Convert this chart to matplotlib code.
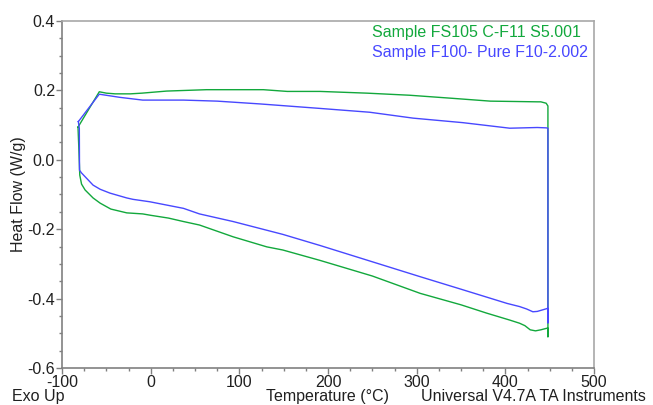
import matplotlib
matplotlib.use("Agg")
import matplotlib.pyplot as plt
from matplotlib.ticker import MultipleLocator

# Sample FS105 C-F11 S5.001 (green) - one closed loop, heating then cooling
temp_fs105 = [-82, -81, -80, -78, -74, -65, -57, -45, -27, -9, 0, 20, 37, 55, 93,
              131, 149, 191, 250, 304, 350, 379, 405, 416, 422, 428, 434, 440,
              446, 448, 448, 448, 446, 440, 436, 410, 383, 341, 292, 244, 191,
              154, 127, 63, 18, -10, -23, -40, -50, -58, -82]
hf_fs105 = [0.094, 0.03, -0.044, -0.07, -0.087, -0.11, -0.125, -0.142, -0.153,
            -0.156, -0.160, -0.168, -0.178, -0.188, -0.222, -0.251, -0.260,
            -0.290, -0.335, -0.385, -0.418, -0.442, -0.462, -0.471, -0.478,
            -0.490, -0.493, -0.490, -0.486, -0.485, -0.51, 0.155, 0.163, 0.167,
            0.167, 0.168, 0.169, 0.177, 0.186, 0.192, 0.197, 0.197, 0.202,
            0.202, 0.198, 0.192, 0.190, 0.190, 0.192, 0.196, 0.094]

# Sample F100- Pure F10-2.002 (blue)
temp_f100 = [-81.6, -80.5, -80.3, -78, -65, -57, -46, -27, -20, -1, 37, 55, 93,
             149, 191, 250, 304, 350, 402, 416, 424, 431, 436, 448, 448, 448,
             446, 436, 405, 352, 296, 247, 191, 123, 75, 37, -9, -35, -58, -81.6]
hf_f100 = [0.110, 0.09, -0.03, -0.038, -0.073, -0.085, -0.096, -0.110, -0.114,
           -0.121, -0.140, -0.156, -0.178, -0.215, -0.247, -0.294, -0.337,
           -0.373, -0.414, -0.423, -0.430, -0.438, -0.437, -0.428, -0.470,
           0.091, 0.092, 0.093, 0.091, 0.107, 0.120, 0.137, 0.148, 0.161,
           0.169, 0.172, 0.172, 0.180, 0.189, 0.110]

labels = ["Sample FS105 C-F11 S5.001", "Sample F100- Pure F10-2.002"]
colors = ["#12a83c", "#4848ff"]

plt.rcParams['font.family'] = ['Liberation Sans', 'DejaVu Sans']
plt.rcParams['axes.unicode_minus'] = False
fs = 11.5

fig = plt.figure(figsize=(6.53, 4.05), dpi=100)
ax = fig.add_axes([0.095, 0.0914, 0.8147, 0.8568])

ax.plot(temp_fs105, hf_fs105, color=colors[0], lw=1.0)
ax.plot(temp_f100, hf_f100, color=colors[1], lw=1.0)

ax.set_xlim(-100, 500)
ax.set_ylim(-0.6, 0.4)
ax.xaxis.set_major_locator(MultipleLocator(100))
ax.xaxis.set_minor_locator(MultipleLocator(25))
ax.yaxis.set_major_locator(MultipleLocator(0.2))
ax.yaxis.set_minor_locator(MultipleLocator(0.05))
ax.yaxis.set_major_formatter(plt.FuncFormatter(lambda v, p: f"{v:.1f}"))

ax.tick_params(which='major', direction='out', length=4, width=1,
               color='#808080', labelsize=fs, labelcolor='#202020', pad=1)
ax.tick_params(which='minor', direction='out', length=2.5, width=1,
               color='#808080')
ax.tick_params(axis='x', which='major', pad=1)

for side in ['left', 'bottom']:
    ax.spines[side].set_color('#808080')
    ax.spines[side].set_linewidth(1.2)
for side in ['top', 'right']:
    ax.spines[side].set_color('#a8a8a8')
    ax.spines[side].set_linewidth(1.2)

ax.set_ylabel("Heat Flow (W/g)", fontsize=fs, color='#202020', labelpad=1)

# legend-like text in the top right corner, left aligned
fig.text(372 / 653, 1 - 33 / 405, labels[0], ha='left', va='center',
         fontsize=fs, color=colors[0])
fig.text(372 / 653, 1 - 52 / 405, labels[1], ha='left', va='center',
         fontsize=fs, color=colors[1])

ybot = 1 - 396.5 / 405
fig.text(12 / 653, ybot, "Exo Up", fontsize=fs, color='#202020',
         ha='left', va='center')
fig.text(266 / 653, ybot, "Temperature (°C)", fontsize=fs,
         color='#202020', ha='left', va='center')
fig.text(646 / 653, ybot, "Universal V4.7A TA Instruments",
         fontsize=fs, color='#202020', ha='right', va='center')

fig.savefig("out.png", dpi=100)
